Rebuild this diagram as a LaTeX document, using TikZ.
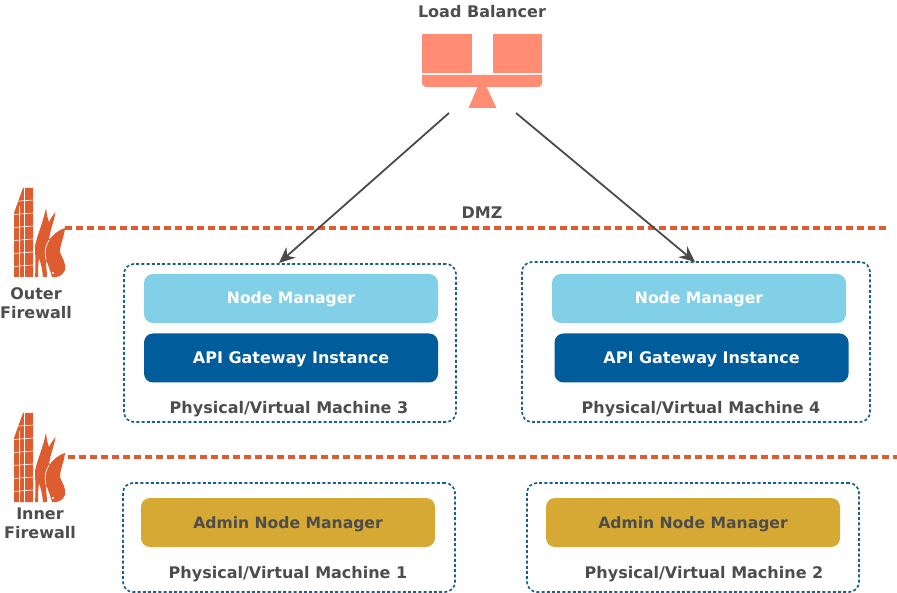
\documentclass[tikz,border=0pt]{standalone}
\usepackage{fontspec}
\setmainfont{DejaVu Sans}
\definecolor{textgray}{HTML}{4D4D4D}
\definecolor{firered}{HTML}{DD5C30}
\definecolor{salmon}{HTML}{FF8C73}
\definecolor{nodeblue}{HTML}{82CFE8}
\definecolor{apiblue}{HTML}{005C9A}
\definecolor{admingold}{HTML}{D6A935}
\definecolor{boxblue}{HTML}{1C5F8C}
\definecolor{arrowgray}{HTML}{4A4A4A}
\usetikzlibrary{arrows.meta}
\tikzset{
  label/.style={font=\bfseries\fontsize{16}{19}\selectfont, text=textgray, align=center},
  bar/.style={rounded corners=9pt, minimum width=294pt, minimum height=49pt,
    font=\bfseries\fontsize{15.6}{19}\selectfont, text=white, inner sep=0pt,
    text height=12pt, text depth=1pt},
  machine/.style={draw=boxblue, line width=1.7pt, dash pattern=on 3pt off 2.2pt,
    rounded corners=10pt, inner sep=0pt},
  wallline/.style={dash pattern=on 7pt off 4pt, line width=3.2pt, draw=firered},
  link/.style={draw=arrowgray, line width=1.8pt, -{Stealth[length=16pt,width=14pt]}},
  firewall/.pic={
    % brick wall
    \fill[firered] (14,33) -- (23,8) -- (33,8) -- (33,97) -- (14,97) -- cycle;
    \foreach \y in {20,33,46,59,72,85}
      \draw[white, line width=0.6pt] (14,\y+1.5) -- (33,\y);
    \draw[white, line width=0.6pt] (19,26) -- (19,97) (24.5,8) -- (24.5,97);
    % flames
    \fill[firered] (35,97) .. controls (36,85) and (35,72) .. (35,66)
      .. controls (38,52) and (42,46) .. (46,28) .. controls (47,36) and (48,40) .. (49,42)
      .. controls (51,38) and (53,35) .. (55.5,32) .. controls (54,42) and (50,50) .. (49,60)
      .. controls (53,55) and (58,50) .. (65,48) .. controls (64,58) and (60,64) .. (60,72)
      .. controls (62,78) and (66,82) .. (65,90) .. controls (63,96) and (56,98) .. (52,97)
      .. controls (50,90) and (48,84) .. (46,80) .. controls (46,86) and (47,92) .. (47,97)
      -- (43,97) .. controls (42,88) and (41,84) .. (39,78)
      .. controls (38,84) and (38,92) .. (38,97) -- cycle;
    \draw[white, line width=0.7pt] (49,60) .. controls (46,66) and (44,70) .. (46,80);
    \fill[white] (53,93) circle (1.2);
  }
}
\begin{document}
\begin{tikzpicture}[x=1pt,y=-1pt]
  \useasboundingbox (0,0) rectangle (897,593);
  % load balancer
  \fill[salmon] (422,34) rectangle (472,73);
  \fill[salmon] (493,34) rectangle (542,73);
  \fill[salmon] (422,75) -- (542,75) -- (542,84) -- (539,87) -- (425,87) -- (422,84) -- cycle;
  \fill[salmon] (477.5,87) -- (486.5,87) -- (496.5,108) -- (468.5,108) -- cycle;
  \node[label] (lbtext) at (482,12) {Load Balancer};
  \coordinate (lbleft) at (449,113);
  \coordinate (lbright) at (516,113);

  % firewalls
  \pic at (0,180) {firewall};
  \pic at (0,405) {firewall};
  \coordinate (outerstart) at (65,228);
  \coordinate (outerend) at (887,228);
  \coordinate (innerstart) at (68,457);
  \coordinate (innerend) at (897,457);
  \draw[wallline] (outerstart) -- (outerend);
  \draw[wallline] (innerstart) -- (innerend);
  \node[label] (outer) at (36,303) {Outer\\Firewall};
  \node[label] (inner) at (40,523) {Inner\\Firewall};
  \node[label] (dmz) at (482,213) {DMZ};

  % machines
  \node[machine, minimum width=332pt, minimum height=158pt] (mach3) at (290,343) {};
  \node[machine, minimum width=348pt, minimum height=160pt] (mach4) at (696,342) {};
  \node[machine, minimum width=332pt, minimum height=109pt] (mach1) at (289,537.5) {};
  \node[machine, minimum width=332pt, minimum height=109pt] (mach2) at (693,537.5) {};

  \node[bar, fill=nodeblue] (nm3) at (291,298.5) {Node Manager};
  \node[bar, fill=apiblue, font=\bfseries\fontsize{16}{19}\selectfont] (api3) at (291,358) {API Gateway Instance};
  \node[bar, fill=nodeblue] (nm4) at (699,298.5) {Node Manager};
  \node[bar, fill=apiblue, font=\bfseries\fontsize{16}{19}\selectfont] (api4) at (701.5,358) {API Gateway Instance};
  \node[bar, fill=admingold, text=textgray] (admin1) at (288,522.5) {Admin Node Manager};
  \node[bar, fill=admingold, text=textgray] (admin2) at (693,522.5) {Admin Node Manager};

  \node[label] (mtext3) at (289,409) {Physical/Virtual Machine 3};
  \node[label] (mtext4) at (701,409) {Physical/Virtual Machine 4};
  \node[label] (mtext1) at (288,574) {Physical/Virtual Machine 1};
  \node[label] (mtext2) at (704,574) {Physical/Virtual Machine 2};

  % links
  \coordinate (hit3) at (279,263);
  \coordinate (hit4) at (695,262);
  \draw[link] (lbleft) -- (hit3);
  \draw[link] (lbright) -- (hit4);
\end{tikzpicture}
\end{document}
